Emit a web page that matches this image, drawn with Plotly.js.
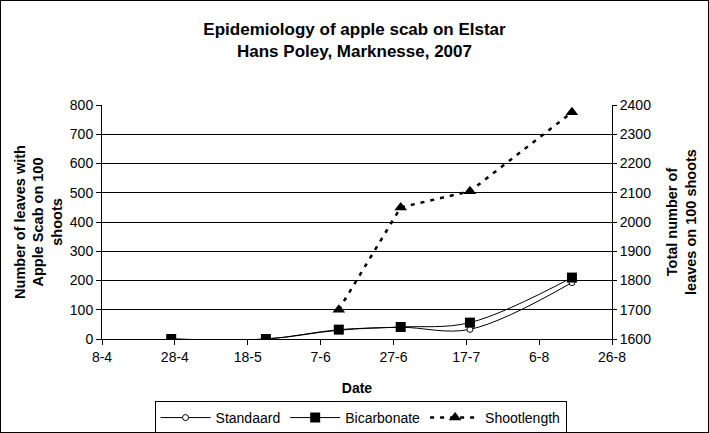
<!DOCTYPE html>
<html>
<head>
<meta charset="utf-8">
<script src="https://cdn.plot.ly/plotly-3.0.1.min.js"></script>
<style>
  html, body { margin: 0; padding: 0; background: #fff; }
  #chart { width: 707px; height: 431px; border: 1px solid #000; }
</style>
</head>
<body>
<div id="chart"></div>
<script>
// Data
const dates = ['2007-04-27', '2007-05-23', '2007-06-12', '2007-06-29', '2007-07-18', '2007-08-15'];
const standaard = [0, 0, 30, 40, 33, 193];
const bicarbonate = [0, 0, 32, 41, 56, 210];
const shootDates = ['2007-06-12', '2007-06-29', '2007-07-18', '2007-08-15'];
const shootlength = [1700, 2050, 2105, 2375];

const FONT = 'Liberation Sans, Arial, sans-serif';

const traces = [
  {
    x: dates, y: standaard, name: 'Standaard', type: 'scatter', mode: 'lines+markers',
    line: { color: '#000', width: 1, shape: 'spline' },
    marker: { symbol: 'circle', size: 6, color: '#fff', line: { color: '#000', width: 1 } }
  },
  {
    x: dates, y: bicarbonate, name: 'Bicarbonate', type: 'scatter', mode: 'lines+markers',
    line: { color: '#000', width: 1, shape: 'spline' },
    marker: { symbol: 'square', size: 10, color: '#000' }
  },
  {
    x: shootDates, y: shootlength, name: 'Shootlength', type: 'scatter', mode: 'lines+markers',
    yaxis: 'y2',
    line: { color: '#000', width: 2.5, dash: '4px,6px' },
    marker: { symbol: 'triangle-up', size: 11, color: '#000' }
  }
];

const layout = {
  width: 707, height: 431,
  margin: { l: 101, r: 96, t: 104, b: 93 },
  paper_bgcolor: '#fff', plot_bgcolor: '#fff',
  font: { family: FONT, size: 14, color: '#000' },
  title: {
    text: '<b>Epidemiology of apple scab on Elstar<br>Hans Poley, Marknesse, 2007</b>',
    font: { family: FONT, size: 17, color: '#000' },
    x: 0.5, xanchor: 'center', y: 0.922, yanchor: 'middle'
  },
  showlegend: true,
  legend: {
    orientation: 'h', x: 0.507, xanchor: 'center',
    yref: 'container', y: 0.072, yanchor: 'top',
    bordercolor: '#000', borderwidth: 1, itemwidth: 50,
    font: { family: FONT, size: 14, color: '#000' },
    tracegroupgap: 0
  },
  xaxis: {
    type: 'date',
    range: ['2007-04-08', '2007-08-26'],
    tick0: '2007-04-08', dtick: 20 * 86400000,
    tickformat: '%-d-%-m',
    showgrid: false, zeroline: false,
    showline: true, linecolor: '#000', linewidth: 1,
    ticks: 'outside', ticklen: 5, tickcolor: '#000',
    tickfont: { family: FONT, size: 14, color: '#000' },
    title: { text: '<b>Date</b>', font: { family: FONT, size: 14, color: '#000' }, standoff: 19 }
  },
  yaxis: {
    range: [0, 800], dtick: 100,
    showgrid: true, gridcolor: '#000', gridwidth: 1,
    zeroline: false,
    showline: true, linecolor: '#000', linewidth: 1,
    ticks: 'outside', ticklen: 5, tickcolor: '#000',
    tickfont: { family: FONT, size: 14, color: '#000' },
    title: { text: '<b>Number of leaves with<br>Apple Scab on 100<br>shoots</b>', font: { family: FONT, size: 14.5, color: '#000' }, standoff: 3 }
  },
  yaxis2: {
    range: [1600, 2400], dtick: 100,
    overlaying: 'y', side: 'right',
    showgrid: false, zeroline: false,
    showline: true, linecolor: '#000', linewidth: 1,
    ticks: 'outside', ticklen: 4, tickcolor: '#000',
    tickfont: { family: FONT, size: 14, color: '#000' },
    title: { text: '<b>Total number of<br>leaves on 100 shoots</b>', font: { family: FONT, size: 14.5, color: '#000' }, standoff: 16 }
  }
};

Plotly.newPlot('chart', traces, layout, { displayModeBar: false, staticPlot: true });
</script>
</body>
</html>
